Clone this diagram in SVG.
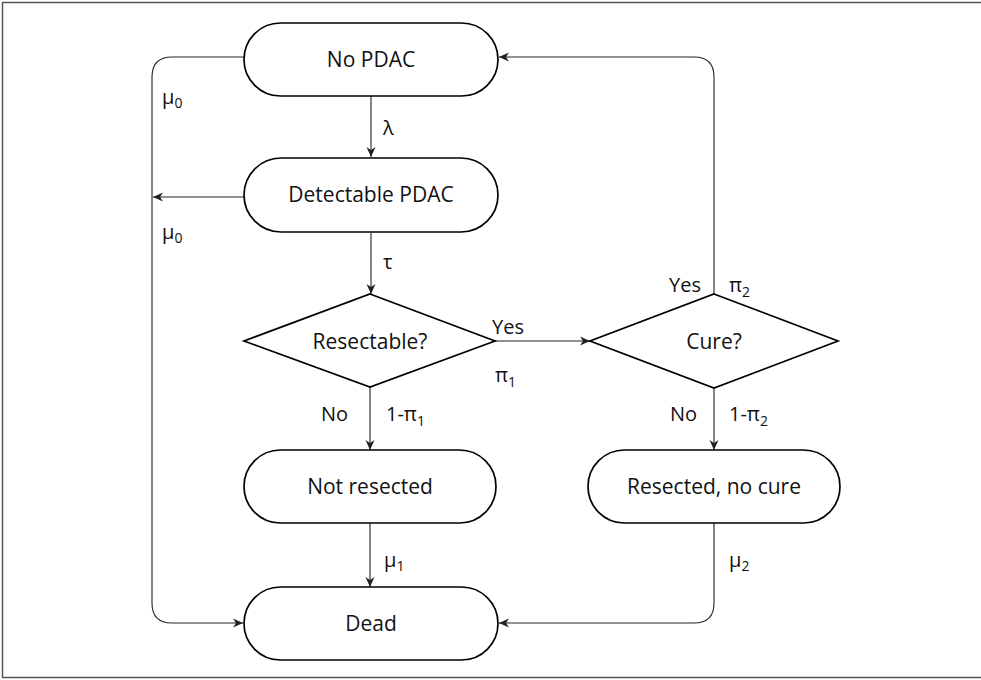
<svg xmlns="http://www.w3.org/2000/svg" width="981" height="680" viewBox="0 0 981 680">
<style>
.node{fill:#fff;stroke:#000;stroke-width:1.7}
.edge{fill:none;stroke:#222;stroke-width:1.1}
text{font-family:"Open Sans","Liberation Sans",sans-serif;font-size:21px;fill:#111}
.lbl{font-size:20px}
.sub{font-size:14px}
.c{text-anchor:middle}
</style>
<defs>
<marker id="ah" viewBox="0 0 12 10" refX="11" refY="5" markerWidth="12" markerHeight="10" markerUnits="userSpaceOnUse" orient="auto">
<path d="M1,0.5 L11,5 L1,9.5 L4,5 Z" fill="#222"/>
</marker>
</defs>
<rect x="2.5" y="2.5" width="990" height="675" fill="#fff" stroke="#555" stroke-width="1.5"/>
<g id="connectors">
<path class="edge" d="M244,57 H172 Q152,57 152,77 V603 Q152,623 172,623 H243" marker-end="url(#ah)"/>
<path class="edge" d="M244,197 H153" marker-end="url(#ah)"/>
<path class="edge" d="M371,96 V157" marker-end="url(#ah)"/>
<path class="edge" d="M371,233 V294" marker-end="url(#ah)"/>
<path class="edge" d="M495,341 V341 H590" marker-end="url(#ah)"/>
<path class="edge" d="M370,387 V450" marker-end="url(#ah)"/>
<path class="edge" d="M714,294 V77 Q714,57 694,57 H499" marker-end="url(#ah)"/>
<path class="edge" d="M714,388 V450" marker-end="url(#ah)"/>
<path class="edge" d="M370,523 V587" marker-end="url(#ah)"/>
<path class="edge" d="M714,523 V603 Q714,623 694,623 H499" marker-end="url(#ah)"/>
</g>
<g id="n-nopdac"><rect class="node" x="244" y="23" width="254" height="73" rx="36.5"/><text class="c" x="371" y="67">No PDAC</text></g>
<g id="n-detectable"><rect class="node" x="244" y="158" width="254" height="74" rx="37"/><text class="c" x="371" y="202">Detectable PDAC</text></g>
<g id="n-resectable"><polygon class="node" points="370,294 495,341 370,387 244,341"/><text class="c" x="370" y="349">Resectable?</text></g>
<g id="n-cure"><polygon class="node" points="714,294 838,341 714,388 590,341"/><text class="c" x="714" y="349">Cure?</text></g>
<g id="n-notresected"><rect class="node" x="244" y="450" width="252" height="73" rx="36.5"/><text class="c" x="370" y="494">Not resected</text></g>
<g id="n-resectednocure"><rect class="node" x="588" y="450" width="252" height="73" rx="36.5"/><text class="c" x="714" y="494">Resected, no cure</text></g>
<g id="n-dead"><rect class="node" x="244" y="587" width="254" height="73" rx="36.5"/><text class="c" x="371" y="631">Dead</text></g>
<g id="labels">
<text class="lbl" x="162" y="104">μ<tspan class="sub" dy="4">0</tspan></text>
<text class="lbl" x="162" y="239">μ<tspan class="sub" dy="4">0</tspan></text>
<text class="lbl" x="383" y="135">λ</text>
<text class="lbl" x="383" y="269">τ</text>
<text class="lbl" x="492" y="334">Yes</text>
<text class="lbl" x="495" y="382">π<tspan class="sub" dy="5">1</tspan></text>
<text class="lbl" x="321" y="421">No</text>
<text class="lbl" x="386" y="421">1-π<tspan class="sub" dy="5">1</tspan></text>
<text class="lbl" x="669" y="292">Yes</text>
<text class="lbl" x="729" y="292">π<tspan class="sub" dy="5">2</tspan></text>
<text class="lbl" x="670" y="421">No</text>
<text class="lbl" x="729" y="421">1-π<tspan class="sub" dy="5">2</tspan></text>
<text class="lbl" x="384" y="567">μ<tspan class="sub" dy="4">1</tspan></text>
<text class="lbl" x="729" y="567">μ<tspan class="sub" dy="4">2</tspan></text>
</g>
</svg>
